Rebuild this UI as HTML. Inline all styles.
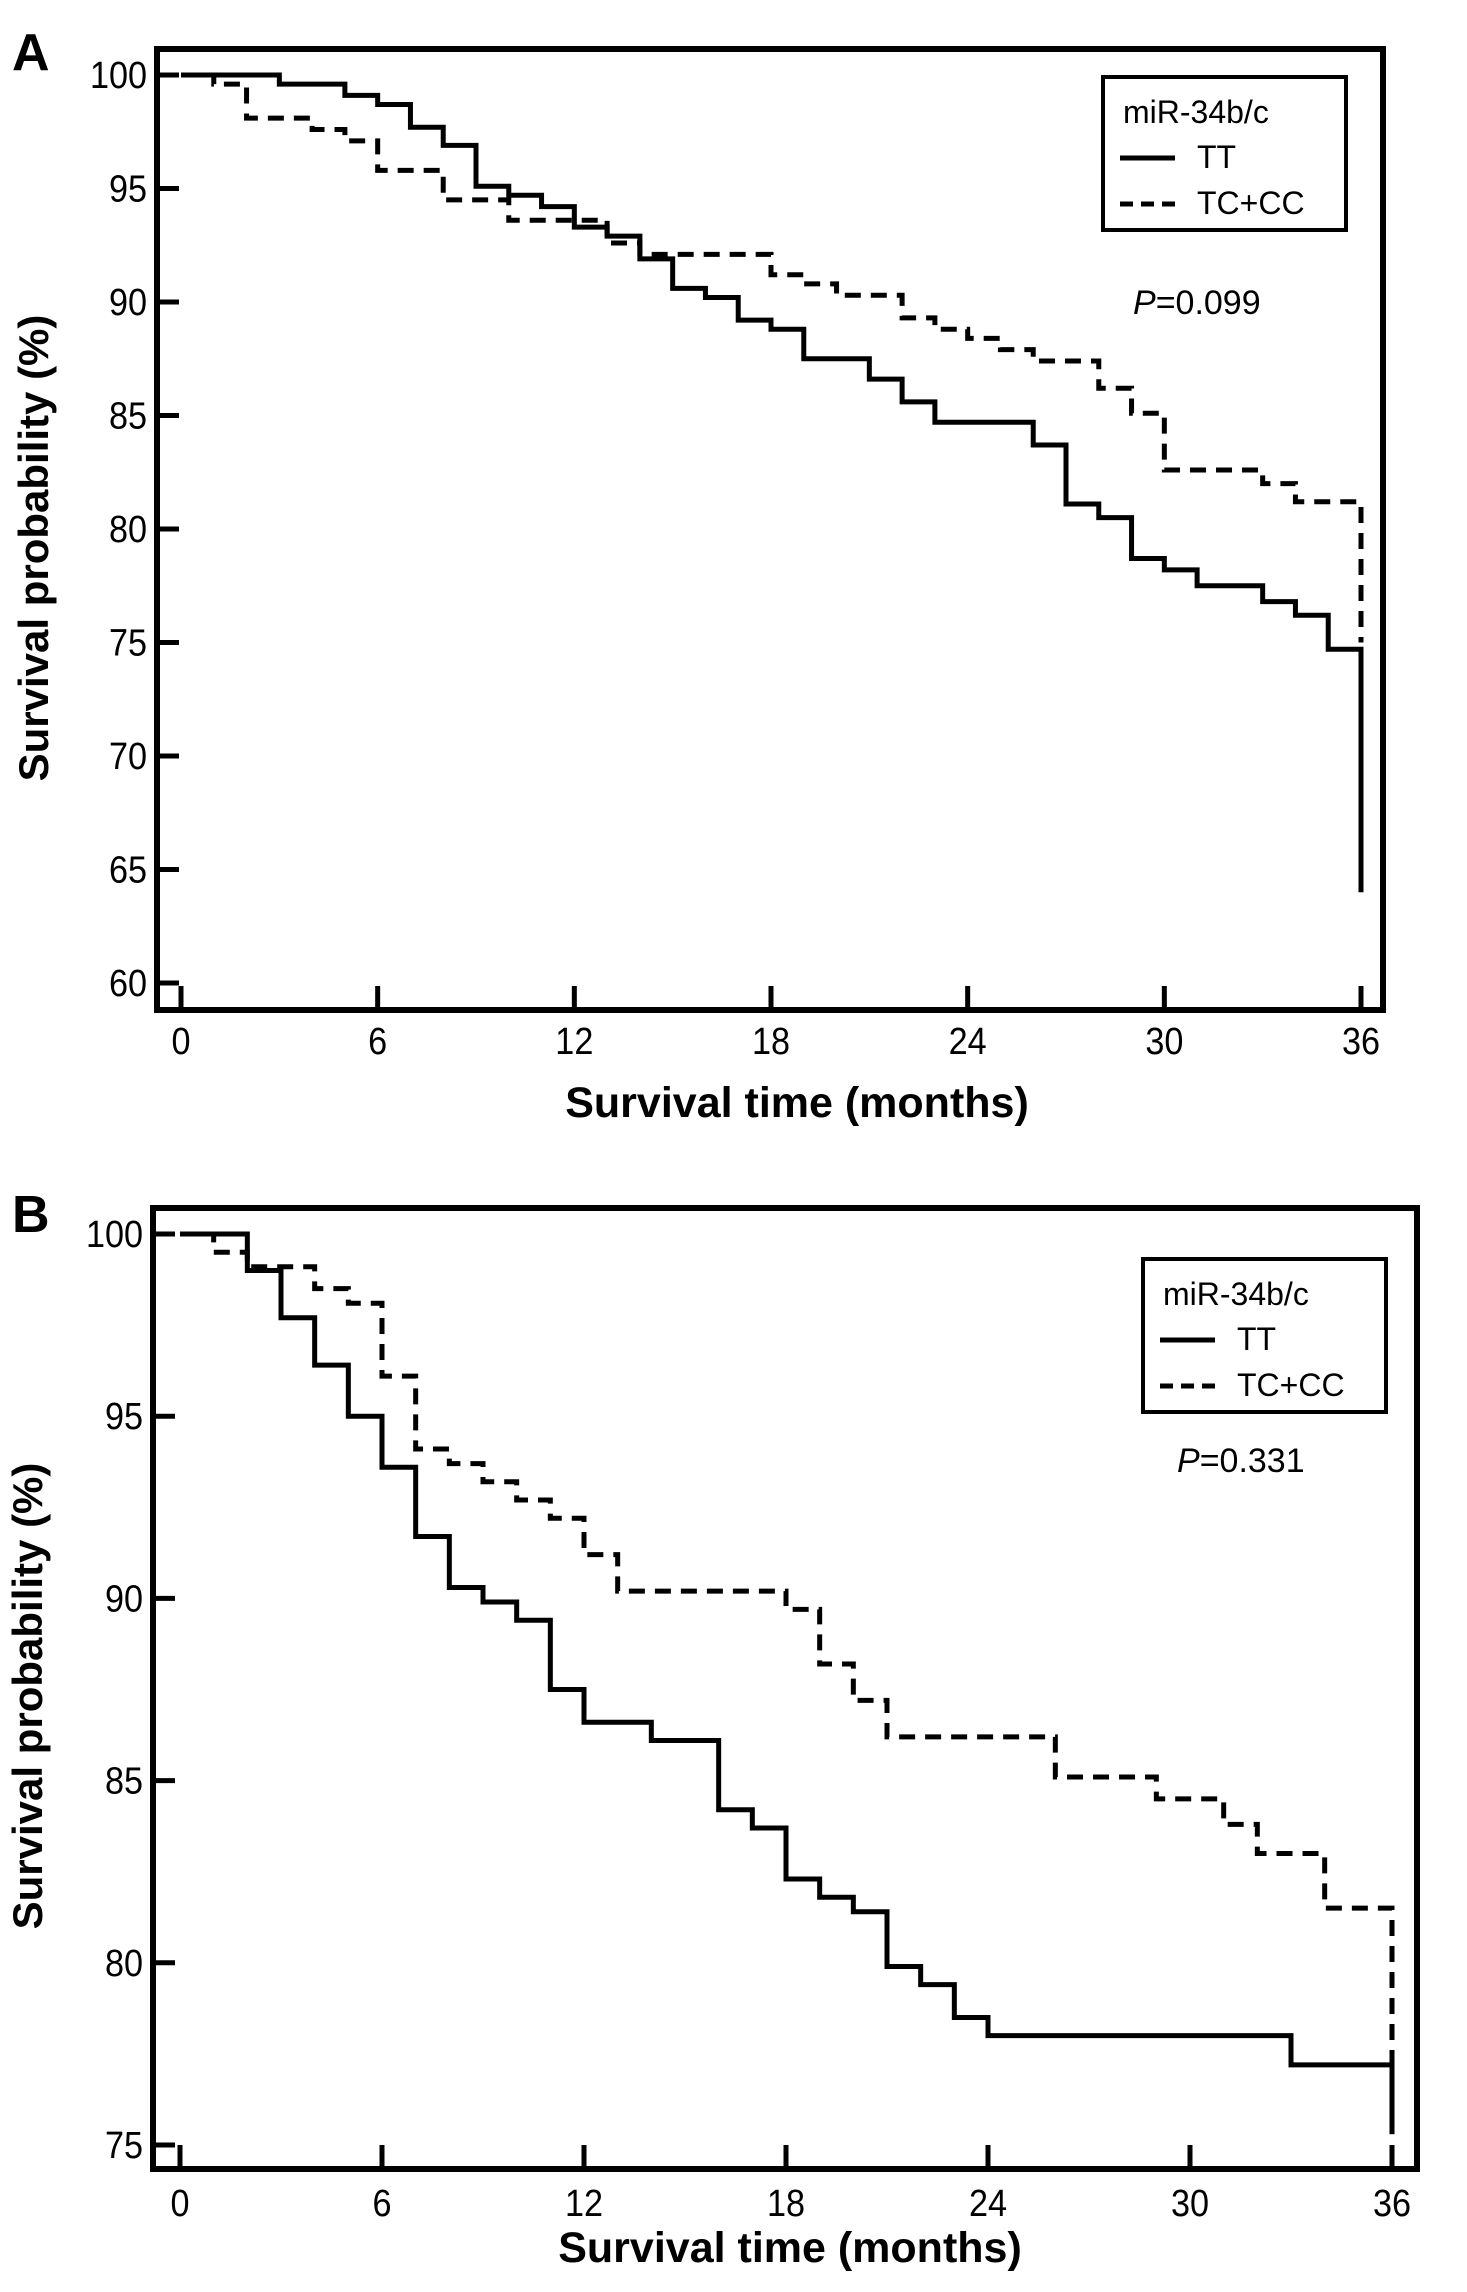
<!DOCTYPE html>
<html><head><meta charset="utf-8"><style>
html,body{margin:0;padding:0;background:#fff;}
svg{display:block;font-family:"Liberation Sans",Arial,sans-serif;}
</style></head><body>
<svg id="fig" width="1467" height="2292" viewBox="0 0 1467 2292"></svg>
<script>
// Panel A data
const aTTTimes=[0,3,5,6,7,8,9,10,11,12,13,14,15,16,17,18,19,21,22,23,26,27,28,29,30,31,33,34,35,36];
const aTTSurv=[100,99.6,99.1,98.7,97.7,96.9,95.1,94.7,94.2,93.3,92.9,91.9,90.6,90.2,89.2,88.8,87.5,86.6,85.6,84.7,83.7,81.1,80.5,78.7,78.2,77.5,76.8,76.2,74.7,64.0];
const aTCTimes=[0,1,2,4,5,6,8,10,13,14,18,19,20,22,23,24,25,26,28,29,30,33,34,36];
const aTCSurv=[100,99.6,98.1,97.6,97.1,95.8,94.5,93.6,92.6,92.1,91.2,90.8,90.3,89.3,88.8,88.4,87.9,87.4,86.2,85.1,82.6,82.0,81.2,75.0];
// Panel B data
const bTTTimes=[0,2,3,4,5,6,7,8,9,10,11,12,14,16,17,18,19,20,21,22,23,24,33,36];
const bTTSurv=[100,99.0,97.7,96.4,95.0,93.6,91.7,90.3,89.9,89.4,87.5,86.6,86.1,84.2,83.7,82.3,81.8,81.4,79.9,79.4,78.5,78.0,77.2,75.3];
const bTCTimes=[0,1,2,4,5,6,7,8,9,10,11,12,13,18,19,20,21,26,29,31,32,34,36];
const bTCSurv=[100,99.5,99.1,98.5,98.1,96.1,94.1,93.7,93.2,92.7,92.2,91.2,90.2,89.7,88.2,87.2,86.2,85.1,84.5,83.8,83.0,81.5,75.3];
const xTicks=[0,6,12,18,24,30,36];
const aYTicks=[60,65,70,75,80,85,90,95,100];
const bYTicks=[75,80,85,90,95,100];
const aP="=0.099", bP="=0.331";

const NS="http://www.w3.org/2000/svg";
const svg=document.getElementById('fig');
function mk(tag,attrs,parent){const e=document.createElementNS(NS,tag);for(const k in attrs)e.setAttribute(k,attrs[k]);(parent||svg).appendChild(e);return e;}

function panel(cfg){
  const g=mk('g',{});
  
  
  const xs=v=>cfg.x0+(v/36)*(cfg.x36-cfg.x0);
  const ys=v=>cfg.yTop+(cfg.yMaxV-v)/(cfg.yMaxV-cfg.yMinV)*(cfg.yBot-cfg.yTop);
  const L=mk('text',{x:cfg.letterX,y:cfg.letterY,'font-size':52,'font-weight':'bold'},g);
  L.textContent=cfg.id.toUpperCase();
  
  
  const fr=mk('rect',{x:cfg.fL,y:cfg.fT,width:cfg.fR-cfg.fL,height:cfg.fB-cfg.fT,fill:'none',stroke:'#000','stroke-width':6},g);
  
  
  xTicks.forEach(t=>{
    const X=xs(t);
    const tk=mk('line',{x1:X,x2:X,y1:cfg.fB,y2:cfg.fB-24,stroke:'#000','stroke-width':5},g);
    
    
    const lb=mk('text',{x:X,y:cfg.xLabY,'font-size':38,'text-anchor':'middle',transform:`translate(${X},0) scale(0.9,1) translate(${-X},0)`},g);
    lb.textContent=t;
    
    
  });
  cfg.yTicks.forEach(t=>{
    const Y=ys(t);
    const tk=mk('line',{x1:cfg.fL,x2:cfg.fL+22,y1:Y,y2:Y,stroke:'#000','stroke-width':5},g);
    
    
    const lx=cfg.fL-10;
    const lb=mk('text',{x:lx,y:Y+13,'font-size':38,'text-anchor':'end',transform:`translate(${lx},0) scale(0.9,1) translate(${-lx},0)`},g);
    lb.textContent=t;
    
    
  });
  const xt=mk('text',{x:cfg.xTitleX,y:cfg.xTitleY,'font-size':43,'font-weight':'bold','text-anchor':'middle'},g);
  xt.textContent='Survival time (months)';
  
  
  const yt=mk('text',{x:0,y:0,'font-size':42,'font-weight':'bold','text-anchor':'middle',transform:`translate(${cfg.yTitleX},${cfg.yTitleY}) rotate(-90)`},g);
  yt.textContent='Survival probability (%)';
  
  
  function step(times,surv){
    let d=`M${xs(times[0])},${ys(surv[0])}`;
    for(let i=1;i<times.length;i++){d+=` H${xs(times[i])} V${ys(surv[i])}`;}
    return d;
  }
  const tc=mk('path',{d:step(cfg.tcT,cfg.tcS),fill:'none',stroke:'#000','stroke-width':5,'stroke-dasharray':'16 10'},g);
  
  
  const tt=mk('path',{d:step(cfg.ttT,cfg.ttS),fill:'none',stroke:'#000','stroke-width':5},g);
  
  
  const lg=mk('g',{},g);
  
  
  const bx=cfg.lgX,by=cfg.lgY;
  mk('rect',{x:bx,y:by,width:243,height:153,fill:'#fff',stroke:'#000','stroke-width':4},lg);
  const t1=mk('text',{x:bx+20,y:by+46,'font-size':32},lg);t1.textContent='miR-34b/c';
  
  
  mk('line',{x1:bx+17,x2:bx+72,y1:by+81,y2:by+81,stroke:'#000','stroke-width':5},lg);
  const t2=mk('text',{x:bx+94,y:by+91,'font-size':32},lg);t2.textContent='TT';
  
  
  mk('line',{x1:bx+17,x2:bx+72,y1:by+127,y2:by+127,stroke:'#000','stroke-width':5,'stroke-dasharray':'13 8'},lg);
  const t3=mk('text',{x:bx+94,y:by+137,'font-size':32},lg);t3.textContent='TC+CC';
  
  
  const p=mk('text',{x:cfg.pX,y:cfg.pY,'font-size':34},g);
  p.innerHTML='<tspan font-style="italic">P</tspan>'+cfg.p;
  
  
}

panel({id:'a',letterX:12,letterY:70,fL:157,fT:49,fR:1383,fB:1010,x0:181,x36:1361,yTop:75,yBot:983,yMaxV:100,yMinV:60,yTicks:aYTicks,xLabY:1054,xTitleX:797,xTitleY:1117,yTitleX:48,yTitleY:548,ttT:aTTTimes,ttS:aTTSurv,tcT:aTCTimes,tcS:aTCSurv,lgX:1103,lgY:77,pX:1133,pY:314,p:aP});
panel({id:'b',letterX:12,letterY:1232,fL:153,fT:1208,fR:1417,fB:2169,x0:180,x36:1392,yTop:1234,yBot:2145,yMaxV:100,yMinV:75,yTicks:bYTicks,xLabY:2216,xTitleX:790,xTitleY:2262,yTitleX:42,yTitleY:1696,ttT:bTTTimes,ttS:bTTSurv,tcT:bTCTimes,tcS:bTCSurv,lgX:1143,lgY:1259,pX:1177,pY:1472,p:bP});
</script>
</body></html>
